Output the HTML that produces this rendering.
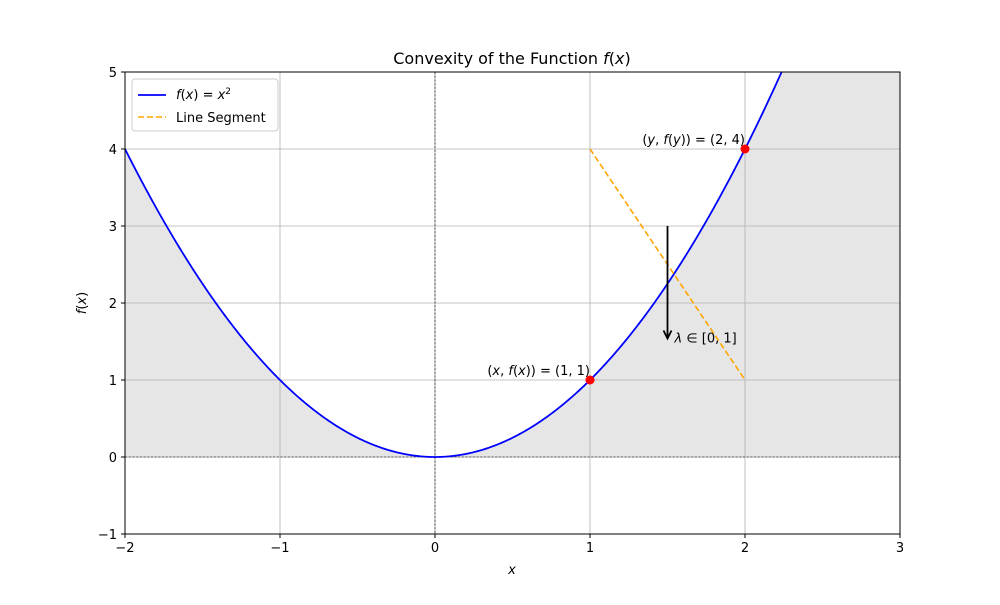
<!DOCTYPE html>
<html><head><meta charset="utf-8"><style>
body{margin:0;background:#fff;font-family:"Liberation Sans","DejaVu Sans",sans-serif;}
text{font-family:"DejaVu Sans","Liberation Sans",sans-serif;font-size:13px;}
</style></head><body>
<svg id="c" width="1000" height="600" xmlns="http://www.w3.org/2000/svg"></svg>
<script>
const xTicks=[-2,-1,0,1,2,3];
const yTicks=[-1,0,1,2,3,4,5];
const segX=[1,2];
const segY=[4,1];
const ptX=[1,2];
const ptY=[1,4];
const arrowX=[1.5,1.5];
const arrowY=[3,1.5];
const L=125,R=900,T=72,B=534;
const sx=v=>L+(v+2)/5*(R-L);
const sy=v=>B-(v+1)/6*(B-T);
const svg=document.getElementById('c');
const NS='http://www.w3.org/2000/svg';
function mk(tag,attrs,txt){const e=document.createElementNS(NS,tag);for(const k in attrs)e.setAttribute(k,attrs[k]);if(txt!==undefined)e.innerHTML=txt;svg.appendChild(e);return e;}
const defs=mk('defs',{});
defs.innerHTML='<clipPath id="clip"><rect x="125" y="72" width="775" height="462"/></clipPath>';
let pts=[],fd='M'+sx(-2)+','+sy(0);
for(let i=0;i<=500;i++){const x=-2+5*i/500;pts.push(sx(x)+','+sy(x*x));fd+=' L'+sx(x)+','+sy(x*x);}
fd+=' L'+sx(3)+','+sy(0)+' Z';
let e=mk('path',{d:fd,fill:'#e6e6e6','clip-path':'url(#clip)'});

xTicks.forEach(v=>{if(v>-2&&v<3){e=mk('line',{x1:sx(v),x2:sx(v),y1:T,y2:B,stroke:'#b0b0b0','stroke-width':0.8});}});
yTicks.forEach(v=>{if(v>-1&&v<5){e=mk('line',{x1:L,x2:R,y1:sy(v),y2:sy(v),stroke:'#b0b0b0','stroke-width':0.8});}});
e=mk('line',{x1:L,x2:R,y1:sy(0),y2:sy(0),stroke:'#000','stroke-width':0.6,'stroke-dasharray':'2.2,1.5'});

e=mk('line',{x1:sx(0),x2:sx(0),y1:T,y2:B,stroke:'#000','stroke-width':0.6,'stroke-dasharray':'2.2,1.5'});

e=mk('polyline',{points:pts.join(' '),fill:'none',stroke:'#0000ff','stroke-width':1.8,'clip-path':'url(#clip)'});

e=mk('line',{x1:sx(segX[0]),y1:sy(segY[0]),x2:sx(segX[1]),y2:sy(segY[1]),stroke:'#ffa500','stroke-width':1.6,'stroke-dasharray':'6,3'});

const ax=sx(arrowX[0]),ay1=sy(arrowY[0]),ay2=sy(arrowY[1])-3;
e=mk('line',{x1:ax,y1:ay1,x2:ax,y2:ay2-1,stroke:'#000','stroke-width':1.8});

e=mk('path',{d:`M${ax-4},${ay2-8} L${ax},${ay2} L${ax+4},${ay2-8}`,fill:'none',stroke:'#000','stroke-width':1.8});

e=mk('text',{x:ax+7,y:sy(arrowY[1])+1},'<tspan font-style="italic">λ</tspan> ∈ [0, 1]');

ptX.forEach((v,i)=>{e=mk('circle',{cx:sx(v),cy:sy(ptY[i]),r:4.5,fill:'#ff0000'});});
e=mk('text',{x:sx(ptX[0]),y:sy(ptY[0])-5,'text-anchor':'end'},'(<tspan font-style="italic">x</tspan>, <tspan font-style="italic">f</tspan>(<tspan font-style="italic">x</tspan>)) = (1, 1)');

e=mk('text',{x:sx(ptX[1]),y:sy(ptY[1])-5,'text-anchor':'end'},'(<tspan font-style="italic">y</tspan>, <tspan font-style="italic">f</tspan>(<tspan font-style="italic">y</tspan>)) = (2, 4)');

e=mk('rect',{x:L,y:T,width:R-L,height:B-T,fill:'none',stroke:'#000','stroke-width':1});

xTicks.forEach(v=>{mk('line',{x1:sx(v),x2:sx(v),y1:B,y2:B+4,stroke:'#000'});e=mk('text',{x:sx(v),y:B+18,'text-anchor':'middle'},v<0?'−'+(-v):v);});
yTicks.forEach(v=>{mk('line',{x1:L-4,x2:L,y1:sy(v),y2:sy(v),stroke:'#000'});e=mk('text',{x:L-8,y:sy(v)+5,'text-anchor':'end'},v<0?'−'+(-v):v);});
e=mk('text',{x:512,y:574,'text-anchor':'middle','font-style':'italic'},'x');

e=mk('text',{x:86,y:303,'text-anchor':'middle',transform:'rotate(-90 86 303)'},'<tspan font-style="italic">f</tspan>(<tspan font-style="italic">x</tspan>)');

e=mk('text',{x:512,y:64,'text-anchor':'middle',style:'font-size:16px'},'Convexity of the Function <tspan font-style="italic">f</tspan>(<tspan font-style="italic">x</tspan>)');

e=mk('rect',{x:132,y:79,width:146,height:52,rx:3,fill:'#fff','fill-opacity':0.8,stroke:'#ccc'});

mk('line',{x1:138,x2:166,y1:95,y2:95,stroke:'#0000ff','stroke-width':1.8});
e=mk('text',{x:176,y:99},'<tspan font-style="italic">f</tspan>(<tspan font-style="italic">x</tspan>) = <tspan font-style="italic">x</tspan><tspan dy="-5" style="font-size:9px">2</tspan>');

mk('line',{x1:138,x2:166,y1:117,y2:117,stroke:'#ffa500','stroke-width':1.6,'stroke-dasharray':'6,3'});
e=mk('text',{x:176,y:122},'Line Segment');

</script>
</body></html>
